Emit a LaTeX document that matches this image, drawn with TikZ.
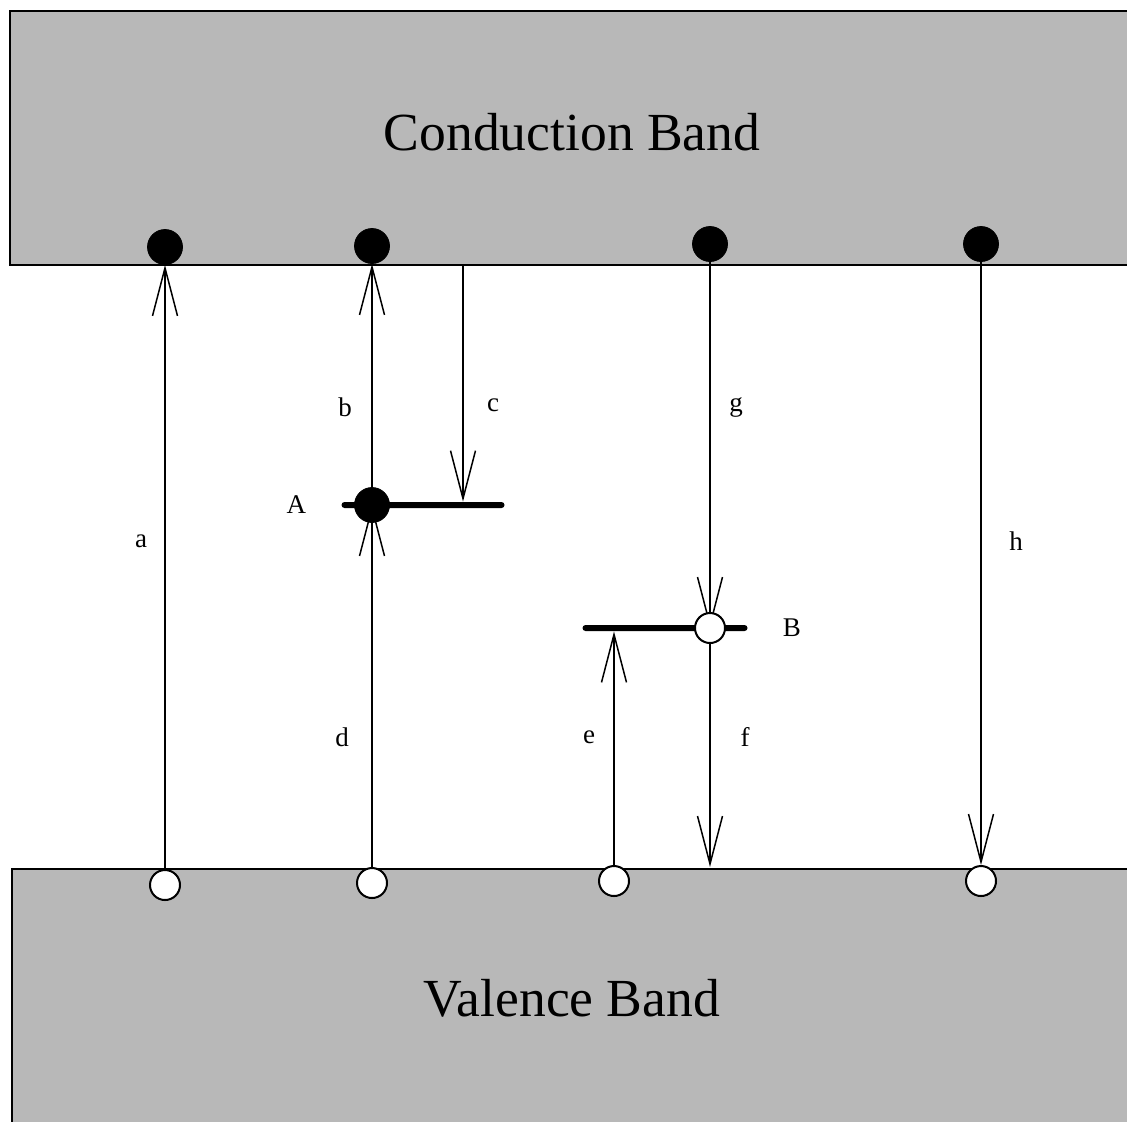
\documentclass[tikz,border=0pt]{standalone}
\usepackage{fontspec}
\setmainfont{Liberation Serif}
\usetikzlibrary{arrows.meta, positioning}
\definecolor{bandgray}{HTML}{B8B8B8}
\pgfdeclarelayer{back}
\pgfsetlayers{back,main}

\begin{document}
\begin{tikzpicture}[
  x=0.5pt, y=-0.5pt,
  band/.style={draw=black, line width=1pt, fill=bandgray},
  bandlabel/.style={font=\fontsize{26.8}{30}\selectfont},
  lbl/.style={font=\fontsize{13.5}{15}\selectfont},
  electron/.style={circle, draw=black, fill=black, inner sep=0pt, minimum size=17.5pt},
  hole/.style={circle, draw=black, line width=1pt, fill=white, inner sep=0pt, minimum size=15pt},
  level/.style={rectangle, fill=black, inner sep=0pt, rounded corners=1.5pt,
                minimum height=3pt},
  arr/.style={-{Straight Barb[length=24pt,width=12.5pt,line width=0.75pt]}, line width=0.75pt},
]
\useasboundingbox (0,0) rectangle (1127,1121);
\clip (0,0) rectangle (1127,1121);

%% Electrons at the conduction band edge
\node[electron] (e1) at (165,247) {};
\node[electron] (e2) at (372,246) {};
\node[electron] (e3) at (710,244) {};
\node[electron] (e4) at (981,244) {};

%% Holes at the valence band edge
\node[hole] (h1) at (165,885) {};
\node[hole] (h2) at (372,883) {};
\node[hole] (h3) at (614,881) {};
\node[hole] (h4) at (981,881) {};

%% Trap levels
\node[level, minimum width=81.5pt] (lvA) at (423,505) {};
\node[level, minimum width=82.5pt] (lvB) at (665,628) {};
\node[electron] (eA) at (372,505) {};
\node[hole] (hB) at (710,628) {};
\node[lbl, left=14pt of lvA.west] (labA) {A};
\node[lbl, right=14pt of lvB.east] (labB) {B};

%% Band titles
\node[bandlabel] (cb) at (572,132) {Conduction Band};
\node[bandlabel] (vb) at (572,998) {Valence Band};

%% Free ends on the band edges
\coordinate (cstart) at (463,265);
\coordinate (fend) at (710,867);

%% Transition labels
\node[lbl] (la) at (141,541) {a};
\node[lbl] (lb) at (345,407) {b};
\node[lbl] (lc) at (493,405) {c};
\node[lbl] (ld) at (342,737) {d};
\node[lbl] (le) at (589,737) {e};
\node[lbl] (lf) at (745,737) {f};
\node[lbl] (lg) at (736,407) {g};
\node[lbl] (lh) at (1016,541) {h};

\begin{pgfonlayer}{back}
  %% Bands
  \draw[band] (10,11) rectangle (1140,265);
  \draw[band] (12,869) rectangle (1140,1140);
  %% Transitions
  \draw[arr] (h1) -- (e1);
  \draw[arr] (eA) -- (e2);
  \draw[arr] (cstart) -- (cstart |- lvA.north);
  \draw[arr] (h2) -- (eA.center);
  \draw[arr] (h3) -- (h3 |- lvB.south);
  \draw[arr] (hB) -- (fend);
  \draw[arr] (e3) -- (hB.center);
  \draw[arr] (e4) -- (e4 |- h4.north);
\end{pgfonlayer}

\end{tikzpicture}
\end{document}
